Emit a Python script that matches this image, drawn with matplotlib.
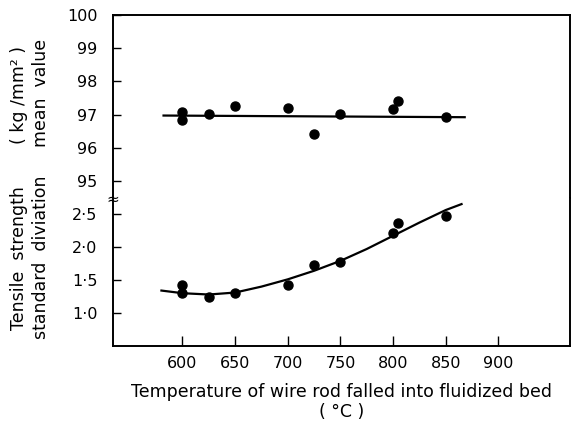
import matplotlib
matplotlib.use('Agg')
import matplotlib.pyplot as plt

# mean tensile strength (kg/mm2) vs temperature
mean_temp = [600, 600, 625, 650, 700, 725, 750, 800, 805, 850]
mean_vals = [97.09, 96.84, 97.02, 97.26, 97.21, 96.41, 97.01, 97.16, 97.41, 96.92]
mean_line_x = [582, 868]
mean_line_y = [96.97, 96.92]

# standard deviation vs temperature
sd_temp = [600, 600, 625, 650, 700, 725, 750, 800, 805, 850]
sd_vals = [1.42, 1.31, 1.24, 1.30, 1.42, 1.73, 1.78, 2.21, 2.37, 2.47]
sd_curve_x = [580, 600, 625, 650, 675, 700, 725, 750, 775, 800, 825, 850, 865]
sd_curve_y = [1.34, 1.30, 1.28, 1.31, 1.40, 1.51, 1.64, 1.79, 1.97, 2.17, 2.37, 2.56, 2.65]

x_ticks = [600, 650, 700, 750, 800, 850, 900]
mean_ticks = [95, 96, 97, 98, 99, 100]
sd_ticks = [1.0, 1.5, 2.0, 2.5]
sd_labels = ['1·0', '1·5', '2·0', '2·5']

plt.rcParams['font.family'] = ['DejaVu Sans']
plt.rcParams['font.size'] = 11

W, H = 584, 428
fig = plt.figure(figsize=(W / 100, H / 100), dpi=100)

left, right = 113 / W, 570 / W
top, split, bottom = 1 - 15 / H, 1 - 197.5 / H, 1 - 346 / H
ax_top = fig.add_axes([left, split, right - left, top - split])
ax_bot = fig.add_axes([left, bottom, right - left, split - bottom], sharex=ax_top)

for ax in (ax_top, ax_bot):
    for s in ax.spines.values():
        s.set_linewidth(1.4)
    ax.tick_params(direction='in', width=1.0, length=6, pad=11, labelsize=11.5,
                   right=False, top=False)
ax_top.spines['bottom'].set_visible(False)
ax_bot.spines['top'].set_visible(False)
ax_top.tick_params(axis='x', bottom=False, labelbottom=False)
ax_bot.tick_params(axis='x', length=7.5, pad=7)

ax_top.plot(mean_line_x, mean_line_y, color='black', lw=1.6)
ax_top.plot(mean_temp, mean_vals, 'o', color='black', ms=6.5)
ax_bot.plot(sd_curve_x, sd_curve_y, color='black', lw=1.6)
ax_bot.plot(sd_temp, sd_vals, 'o', color='black', ms=6.5)

ax_bot.set_xlim(534, 968)
ax_top.set_ylim(94.5, 100)
ax_bot.set_ylim(0.5, 2.75)
ax_top.set_yticks(mean_ticks)
ax_bot.set_yticks(sd_ticks)
ax_bot.set_yticklabels(sd_labels)
ax_bot.set_xticks(x_ticks)

# axis break mark on the left spine
fig.text(left, 1 - 199 / H, '≈', ha='center', va='center', fontsize=11)

lab = 12.5
fig.text((113 + 570) / 2 / W, 1 - 392 / H,
         'Temperature of wire rod falled into fluidized bed', ha='center', va='center',
         fontsize=lab)
fig.text((113 + 570) / 2 / W, 1 - 412 / H, '( °C )', ha='center', va='center', fontsize=lab)

fig.text(19 / W, 1 - 258 / H, 'Tensile  strength', rotation=90, ha='center', va='center',
         fontsize=lab)
fig.text(19 / W, 1 - 95 / H, '( kg /mm² )', rotation=90, ha='center', va='center',
         fontsize=lab)
fig.text(41 / W, 1 - 257 / H, 'standard  diviation', rotation=90, ha='center', va='center',
         fontsize=lab)
fig.text(41 / W, 1 - 93 / H, 'mean  value', rotation=90, ha='center', va='center',
         fontsize=lab)

plt.savefig('out.png', dpi=100)
